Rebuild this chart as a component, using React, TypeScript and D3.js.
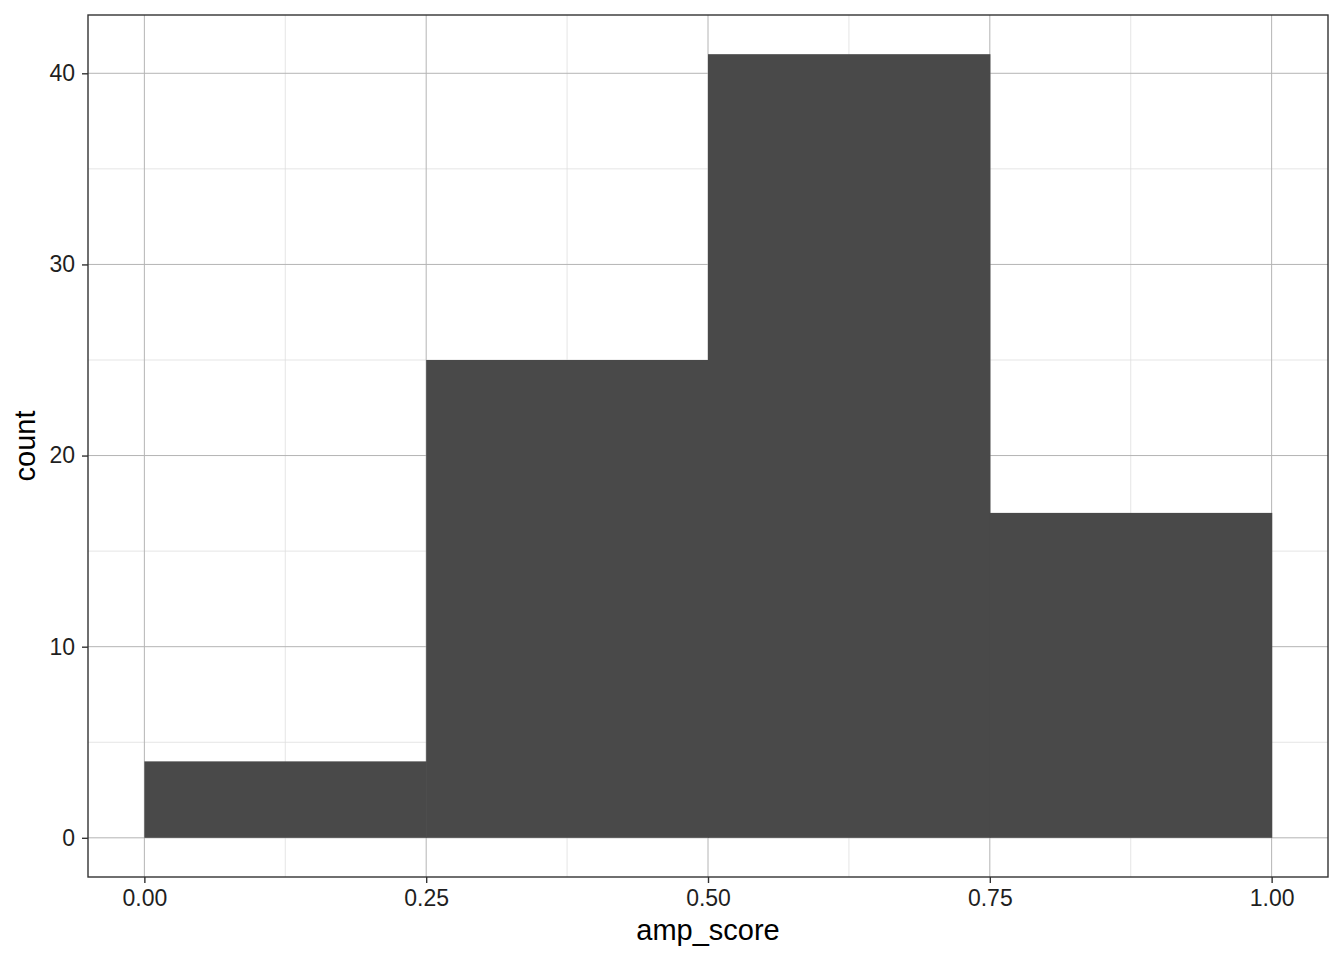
import { useEffect, useRef } from "react"
import * as d3 from "d3"

// histogram bins (amp_score, binwidth 0.25)
const binStarts = [0, 0.25, 0.5, 0.75]
const binWidth = 0.25
const counts = [4, 25, 41, 17]
const xTicks = [0, 0.25, 0.5, 0.75, 1]
const xMinor = [0.125, 0.375, 0.625, 0.875]
const yTicks = [0, 10, 20, 30, 40]
const yMinor = [5, 15, 25, 35]

export default function App() {
  const svgRef = useRef(null)

  useEffect(() => {
    if (!svgRef.current) return
    const svg = d3.select(svgRef.current)
    svg.selectAll("*").remove()

    const width = 1344
    const height = 960
    const margin = { top: 15, right: 16, bottom: 83, left: 88 }
    const innerWidth = width - margin.left - margin.right
    const innerHeight = height - margin.top - margin.bottom
    const font = "Liberation Sans, Arial, sans-serif"

    const x = d3.scaleLinear().domain([-0.05, 1.05]).range([0, innerWidth])
    const yMax = d3.max(counts)
    const y = d3.scaleLinear().domain([-yMax * 0.05, yMax * 1.05]).range([innerHeight, 0])

    const g = svg.append("g").attr("transform", `translate(${margin.left},${margin.top})`)

    // minor grid
    g.selectAll(".xminor").data(xMinor).enter().append("line")
      .attr("x1", (d) => x(d)).attr("x2", (d) => x(d))
      .attr("y1", 0).attr("y2", innerHeight)
      .attr("stroke", "#dedede").attr("stroke-width", 0.8)
    g.selectAll(".yminor").data(yMinor).enter().append("line")
      .attr("y1", (d) => y(d)).attr("y2", (d) => y(d))
      .attr("x1", 0).attr("x2", innerWidth)
      .attr("stroke", "#dedede").attr("stroke-width", 0.8)

    // major grid
    g.selectAll(".xmajor").data(xTicks).enter().append("line")
      .attr("x1", (d) => x(d)).attr("x2", (d) => x(d))
      .attr("y1", 0).attr("y2", innerHeight)
      .attr("stroke", "#b4b4b4").attr("stroke-width", 1)
    g.selectAll(".ymajor").data(yTicks).enter().append("line")
      .attr("y1", (d) => y(d)).attr("y2", (d) => y(d))
      .attr("x1", 0).attr("x2", innerWidth)
      .attr("stroke", "#b4b4b4").attr("stroke-width", 1)

    // bars
    g.selectAll(".bar").data(binStarts).enter().append("rect")
      .attr("x", (d) => x(d))
      .attr("width", (d) => x(d + binWidth) - x(d) + 0.6)
      .attr("y", (d, i) => y(counts[i]))
      .attr("height", (d, i) => y(0) - y(counts[i]))
      .attr("fill", "#494949")

    // panel border
    g.append("rect")
      .attr("width", innerWidth).attr("height", innerHeight)
      .attr("fill", "none").attr("stroke", "#333333").attr("stroke-width", 1.4)

    // x axis
    const xAxis = g.append("g")
      .attr("transform", `translate(0,${innerHeight})`)
      .call(d3.axisBottom(x).tickValues(xTicks).tickFormat(d3.format(".2f")).tickSize(6).tickPadding(7))
    xAxis.select(".domain").remove()
    xAxis.selectAll("line").attr("stroke", "#333333").attr("stroke-width", 1.4)
    xAxis.selectAll("text").attr("fill", "#1f1f1f").attr("font-size", "23px")
      .attr("font-family", font)

    // y axis
    const yAxis = g.append("g")
      .call(d3.axisLeft(y).tickValues(yTicks).tickSize(6).tickPadding(7))
    yAxis.select(".domain").remove()
    yAxis.selectAll("line").attr("stroke", "#333333").attr("stroke-width", 1.4)
    yAxis.selectAll("text").attr("fill", "#1f1f1f").attr("font-size", "23px")
      .attr("font-family", font)

    // axis titles
    svg.append("text")
      .attr("x", margin.left + innerWidth / 2)
      .attr("y", 940)
      .attr("text-anchor", "middle")
      .attr("font-size", "29px")
      .attr("font-family", font)
      .attr("fill", "#000")
      .text("amp_score")

    svg.append("text")
      .attr("transform", `translate(35,${margin.top + innerHeight / 2}) rotate(-90)`)
      .attr("text-anchor", "middle")
      .attr("font-size", "29px")
      .attr("font-family", font)
      .attr("fill", "#000")
      .text("count")
  }, [])

  return (
    <svg
      ref={svgRef}
      width={1344}
      height={960}
      style={{ position: "absolute", top: 0, left: 0, background: "#fff" }}
    ></svg>
  )
}
